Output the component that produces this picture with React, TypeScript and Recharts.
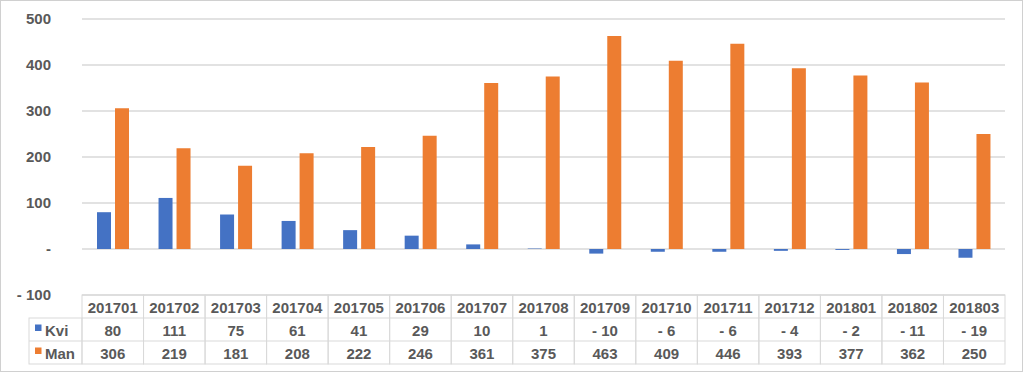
import React from "react";
import { BarChart, Bar, XAxis, YAxis, CartesianGrid } from "recharts";

const months = [
  "201701", "201702", "201703", "201704", "201705", "201706", "201707", "201708",
  "201709", "201710", "201711", "201712", "201801", "201802", "201803",
];
const kvi = [80, 111, 75, 61, 41, 29, 10, 1, -10, -6, -6, -4, -2, -11, -19];
const man = [306, 219, 181, 208, 222, 246, 361, 375, 463, 409, 446, 393, 377, 362, 250];
const yTicks = [-100, 0, 100, 200, 300, 400, 500];

const BLUE = "#4472C4";
const ORANGE = "#ED7D31";
const TEXT = "#595959";
const LINE = "#D9D9D9";
const FONT = "'Liberation Sans', Arial, sans-serif";
const WEIGHT = "bold";

const W = 1023;
const H = 372;
const LEFT = 82;
const RIGHT = 18;
const ROW = 23;
const colW = (W - LEFT - RIGHT) / months.length;

const data = months.map((m, i) => ({ month: m, Kvi: kvi[i], Man: man[i] }));

const fmt = (v: number) => {
  if (v === 0) return "-";
  if (v < 0) return "- " + Math.abs(v);
  return String(v);
};

// every x tick draws its own column of the data table
const TableTick = (props: any) => {
  const { x, y, payload, index } = props;
  const l = x - colW / 2;
  const r = x + colW / 2;
  const row = data[index];
  const txt = (ty: number, s: string) => (
    <text x={x} y={ty} textAnchor="middle" dominantBaseline="central" fill={TEXT} fontSize={15} fontWeight={WEIGHT} fontFamily={FONT}>
      {s}
    </text>
  );
  return (
    <g>
      <rect x={l} y={y} width={colW} height={ROW * 3} fill="none" stroke={LINE} strokeWidth={1} />
      <line x1={l} x2={r} y1={y + ROW} y2={y + ROW} stroke={LINE} />
      <line x1={l} x2={r} y1={y + ROW * 2} y2={y + ROW * 2} stroke={LINE} />
      {txt(y + ROW / 2 + 1, payload.value)}
      {txt(y + ROW * 1.5 + 1, fmt(row.Kvi))}
      {txt(y + ROW * 2.5 + 1, fmt(row.Man))}
      {index === 0 && (
        <g>
          <rect x={l - 53} y={y + ROW} width={53} height={ROW * 2} fill="none" stroke={LINE} />
          <line x1={l - 53} x2={l} y1={y + ROW * 2} y2={y + ROW * 2} stroke={LINE} />
          <rect x={l - 47} y={y + ROW * 1.5 - 5} width={6.5} height={6.5} fill={BLUE} />
          <rect x={l - 47} y={y + ROW * 2.5 - 5} width={6.5} height={6.5} fill={ORANGE} />
          <text x={l - 37} y={y + ROW * 1.5 + 1} dominantBaseline="central" fill={TEXT} fontSize={15} fontWeight={WEIGHT} fontFamily={FONT}>Kvi</text>
          <text x={l - 37} y={y + ROW * 2.5 + 1} dominantBaseline="central" fill={TEXT} fontSize={15} fontWeight={WEIGHT} fontFamily={FONT}>Man</text>
        </g>
      )}
    </g>
  );
};

export default function App() {
  return (
    <div
      style={{
        position: "fixed",
        left: 0,
        top: 0,
        width: W,
        height: H,
        boxSizing: "border-box",
        border: "1px solid #D0D0D0",
        background: "#fff",
      }}
    >
      <div style={{ position: "absolute", left: -1, top: -1 }}>
        <BarChart
          width={W}
          height={H}
          data={data}
          margin={{ top: 19, right: RIGHT, left: 0, bottom: 0 }}
          barSize={14}
          barGap={4}
        >
          <CartesianGrid vertical={false} stroke={LINE} strokeWidth={1.5} />
          <XAxis
            dataKey="month"
            height={77}
            axisLine={false}
            tickLine={false}
            tickSize={0}
            tickMargin={0}
            interval={0}
            tick={<TableTick />}
          />
          <YAxis
            width={LEFT}
            domain={[-100, 500]}
            ticks={yTicks}
            axisLine={false}
            tickLine={false}
            tickMargin={25}
            tickFormatter={fmt}
            tick={{ fill: TEXT, fontSize: 15, fontWeight: WEIGHT, fontFamily: FONT }}
          />
          <Bar dataKey="Kvi" fill={BLUE} isAnimationActive={false} />
          <Bar dataKey="Man" fill={ORANGE} isAnimationActive={false} />
        </BarChart>
      </div>
    </div>
  );
}
